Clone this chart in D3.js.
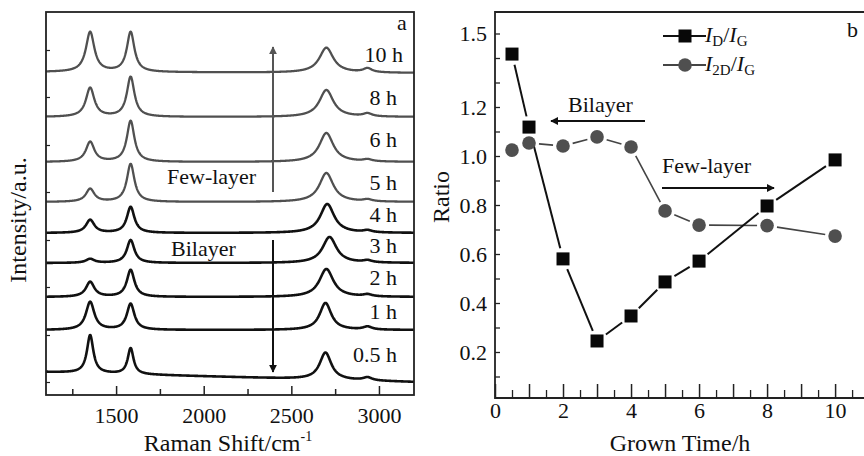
<!DOCTYPE html>
<html><head><meta charset="utf-8">
<script src="https://cdn.jsdelivr.net/npm/d3@7/dist/d3.min.js"></script>
<style>
html,body{margin:0;padding:0;background:#fff;}
svg{display:block;}
text{font-family:"Liberation Serif","Times New Roman",serif;fill:#111;}
</style></head>
<body><svg id="c" width="864" height="456"></svg>
<script>
// ---------- Panel a data (Raman spectra, stacked) ----------
const spectraLabels = ["10 h","8 h","6 h","5 h","4 h","3 h","2 h","1 h","0.5 h"];
const baseLeft  = [32.3, 27.8, 23.3, 19.3, 16.2, 13.2, 9.8, 6.5, 2.3];
const baseRight = [32.2, 27.8, 23.3, 19.3, 16.2, 13.2, 9.8, 6.5, 1.3];
const peakD   = [4.0, 2.9, 2.0, 1.3, 1.3, 0.4, 1.5, 2.8, 3.8];
const peakG   = [4.0, 4.0, 4.1, 3.8, 2.6, 2.3, 2.7, 2.6, 2.6];
const peak2D  = [2.5, 2.7, 2.9, 2.9, 2.9, 2.6, 2.8, 2.7, 2.7];
const peak2D2 = [0.4, 0.3, 0.2, 0.2, 0.2, 0.2, 0.2, 0.3, 0.3];
const pos2D   = [2700, 2700, 2700, 2700, 2705, 2718, 2700, 2695, 2695];
const labelY  = [33.3, 29.0, 24.8, 20.5, 17.3, 14.2, 11.0, 7.6, 3.3];
const posD = 1352, posG = 1583, pos2D2 = 2935;
const ramanTicks = [1500, 2000, 2500, 3000];
const ramanMinor = [1250, 1750, 2250, 2750];

// ---------- Panel b data ----------
const grownTime = [0.5, 1, 2, 3, 4, 5, 6, 8, 10];
const ratioDG   = [1.416, 1.118, 0.58, 0.245, 0.347, 0.486, 0.571, 0.796, 0.984];
const ratio2DG  = [1.024, 1.053, 1.041, 1.078, 1.037, 0.776, 0.718, 0.716, 0.673];
const ratioTickLabels = [0.2, 0.4, 0.6, 0.8, 1.0, 1.2, 1.5];

const svg = d3.select("#c");
const FS = 22, FT = 24;

// ================= Panel a =================
const ax = {l:46, r:414, t:12, b:395};
const xa = d3.scaleLinear().domain([1100, 3200]).range([ax.l, ax.r]);
const ya = d3.scaleLinear().domain([0, 38.3]).range([ax.b, ax.t]);
const ga = svg.append("g");

const lor = (x, x0, w) => (w*w)/((x-x0)*(x-x0)+w*w);
const xs = d3.range(1100, 3201, 2);
spectraLabels.forEach((lab, i) => {
  const top = i < 4;
  const wD = i === 8 ? 22 : 29, wG = i === 8 ? 20 : 26, w2 = i >= 7 ? 40 : 48;
  const pts = xs.map(x => {
    const b = baseLeft[i] + (baseRight[i]-baseLeft[i])*(x-1100)/2100;
    return [x, b + peakD[i]*lor(x,posD,wD) + peakG[i]*lor(x,posG,wG)
              + peak2D[i]*lor(x,pos2D[i],w2) + peak2D2[i]*lor(x,pos2D2,30)];
  });
  ga.append("path").datum(pts)
    .attr("d", d3.line().x(d=>xa(d[0])).y(d=>ya(d[1])))
    .attr("fill","none")
    .attr("stroke", top ? "#505050" : "#111")
    .attr("stroke-width", top ? 2.3 : 2.6)
    .attr("stroke-linejoin","round");
});
// spectrum labels
spectraLabels.forEach((lab, i) => {
  ga.append("text").attr("x", i===0 ? 403 : 397).attr("y", ya(labelY[i]))
    .attr("text-anchor","end").attr("font-size",FS).text(lab);
});
// axes a
ga.append("g").attr("transform",`translate(0,${ax.b})`)
  .call(d3.axisBottom(xa).tickValues(ramanTicks).tickSize(-9).tickPadding(12).tickFormat(d3.format("d")))
  .call(g=>{g.select(".domain").remove(); g.selectAll("text").attr("font-size",FS).attr("font-family","Liberation Serif").attr("fill","#111"); g.selectAll("line").attr("stroke","#222").attr("stroke-width",1.5);});
ga.append("g").attr("transform",`translate(0,${ax.b})`)
  .call(d3.axisBottom(xa).tickValues(ramanMinor).tickSize(-6).tickFormat(""))
  .call(g=>{g.select(".domain").remove(); g.selectAll("line").attr("stroke","#222").attr("stroke-width",1.5);});
ga.append("g").attr("transform",`translate(${ax.l},0)`)
  .call(d3.axisLeft(ya).tickValues([1.3,6.0,10.8,15.5,20.3,25.0,29.8,34.5]).tickSize(-4).tickFormat(""))
  .call(g=>{g.select(".domain").remove(); g.selectAll("line").attr("stroke","#222").attr("stroke-width",1.2);});
ga.append("rect").attr("x",ax.l).attr("y",ax.t).attr("width",ax.r-ax.l).attr("height",ax.b-ax.t)
  .attr("fill","none").attr("stroke","#222").attr("stroke-width",1.8);
ga.append("text").attr("x",397).attr("y",30).attr("font-size",FS).text("a");
// axis titles a
const xt = ga.append("text").attr("x",228).attr("y",451).attr("text-anchor","middle").attr("font-size",FT);
xt.append("tspan").text("Raman Shift/cm");
xt.append("tspan").attr("font-size",14).attr("dy",-10).text("-1");
ga.append("text").attr("transform","translate(26,220) rotate(-90)").attr("text-anchor","middle")
  .attr("font-size",FT).text("Intensity/a.u.");

// arrows
const defs = svg.append("defs");
function marker(id, color){
  defs.append("marker").attr("id",id).attr("viewBox","0 0 10 10").attr("refX",9).attr("refY",5)
    .attr("markerWidth",4).attr("markerHeight",4).attr("orient","auto")
    .append("path").attr("d","M0,0 L10,5 L0,10 Z").attr("fill",color);
}
marker("ag","#555"); marker("ak","#111");
ga.append("line").attr("x1",273).attr("y1",192).attr("x2",273).attr("y2",47)
  .attr("stroke","#555").attr("stroke-width",2).attr("marker-end","url(#ag)");
ga.append("line").attr("x1",273).attr("y1",240).attr("x2",273).attr("y2",372)
  .attr("stroke","#111").attr("stroke-width",2).attr("marker-end","url(#ak)");
ga.append("text").attr("x",167).attr("y",184).attr("font-size",FS).text("Few-layer");
ga.append("text").attr("x",171).attr("y",256).attr("font-size",FS).text("Bilayer");

// ================= Panel b =================
const bx = {l:495, r:864, t:12, b:398};
const xb = d3.scaleLinear().domain([0, 10.85]).range([bx.l, bx.r]);
const yb = d3.scaleLinear().domain([0, 1.6]).range([401, 9]);
const gb = svg.append("g");

gb.append("g").attr("transform",`translate(0,${bx.b})`)
  .call(d3.axisBottom(xb).tickValues(d3.range(0,11,1)).tickSize(-14).tickPadding(5)
     .tickFormat(d => d % 2 === 0 ? d : ""))
  .call(g=>{g.select(".domain").remove(); g.selectAll("text").attr("font-size",FS).attr("font-family","Liberation Serif").attr("fill","#111").attr("y",4); g.selectAll("line").attr("stroke","#222").attr("stroke-width",1.5);});
gb.append("g").attr("transform",`translate(0,${bx.b})`)
  .call(d3.axisBottom(xb).tickValues(d3.range(0.5,11,1)).tickSize(-8).tickFormat(""))
  .call(g=>{g.select(".domain").remove(); g.selectAll("line").attr("stroke","#222").attr("stroke-width",1.3);});
gb.append("g").attr("transform",`translate(${bx.l},0)`)
  .call(d3.axisLeft(yb).tickValues(d3.range(1,16).map(d=>d/10)).tickSize(-5).tickPadding(8)
    .tickFormat(d => ratioTickLabels.some(v => Math.abs(v-d)<1e-6) ? d3.format(".1f")(d) : ""))
  .call(g=>{g.select(".domain").remove(); g.selectAll("text").attr("font-size",FS).attr("font-family","Liberation Serif").attr("fill","#111"); g.selectAll("line").attr("stroke","#222").attr("stroke-width",1.3);});
gb.append("path").attr("d",`M${bx.r},${bx.t}H${bx.l}V${bx.b}H${bx.r}`)
  .attr("fill","none").attr("stroke","#222").attr("stroke-width",1.8);

// shortened connecting segments
function segs(xv, yv, color, width, gap){
  for (let i=0;i<xv.length-1;i++){
    const x1=xb(xv[i]), y1=yb(yv[i]), x2=xb(xv[i+1]), y2=yb(yv[i+1]);
    const dx=x2-x1, dy=y2-y1, L=Math.hypot(dx,dy);
    if (L < 2*gap) continue;
    const ux=dx/L, uy=dy/L;
    gb.append("line").attr("x1",x1+ux*gap).attr("y1",y1+uy*gap)
      .attr("x2",x2-ux*gap).attr("y2",y2-uy*gap)
      .attr("stroke",color).attr("stroke-width",width);
  }
}
segs(grownTime, ratio2DG, "#444", 1.6, 10);
segs(grownTime, ratioDG, "#111", 2, 11);
gb.selectAll("circle.c").data(grownTime).enter().append("circle")
  .attr("cx",(d)=>xb(d)).attr("cy",(d,i)=>yb(ratio2DG[i])).attr("r",6.8).attr("fill","#4f4f4f");
const S = 13;
gb.selectAll("rect.s").data(grownTime).enter().append("rect")
  .attr("x",d=>xb(d)-S/2).attr("y",(d,i)=>yb(ratioDG[i])-S/2).attr("width",S).attr("height",S).attr("fill","#080808");

// legend
gb.append("line").attr("x1",663).attr("x2",706).attr("y1",36).attr("y2",36).attr("stroke","#111").attr("stroke-width",2);
gb.append("rect").attr("x",685-S/2).attr("y",36-S/2).attr("width",S).attr("height",S).attr("fill","#080808");
gb.append("line").attr("x1",663).attr("x2",706).attr("y1",65).attr("y2",65).attr("stroke","#444").attr("stroke-width",2);
gb.append("circle").attr("cx",685).attr("cy",65).attr("r",6.8).attr("fill","#4f4f4f");
function legText(y, sub1){
  const t = gb.append("text").attr("x",705).attr("y",y).attr("font-size",FS);
  t.append("tspan").attr("font-style","italic").text("I");
  t.append("tspan").attr("font-size",15).attr("dy",4).text(sub1);
  t.append("tspan").attr("dy",-4).text("/");
  t.append("tspan").attr("font-style","italic").text("I");
  t.append("tspan").attr("font-size",15).attr("dy",4).text("G");
}
legText(42, "D");
legText(71, "2D");
gb.append("text").attr("x",847).attr("y",37).attr("font-size",FS).text("b");

// annotations
gb.append("line").attr("x1",645).attr("y1",121).attr("x2",551).attr("y2",121)
  .attr("stroke","#111").attr("stroke-width",2).attr("marker-end","url(#ak)");
gb.append("text").attr("x",568).attr("y",112).attr("font-size",FS).text("Bilayer");
gb.append("line").attr("x1",662).attr("y1",188).attr("x2",774).attr("y2",188)
  .attr("stroke","#111").attr("stroke-width",2).attr("marker-end","url(#ak)");
gb.append("text").attr("x",662).attr("y",173).attr("font-size",FS).text("Few-layer");

// axis titles b
gb.append("text").attr("x",680).attr("y",451).attr("text-anchor","middle").attr("font-size",FT).text("Grown Time/h");
gb.append("text").attr("transform","translate(449,197) rotate(-90)").attr("text-anchor","middle").attr("font-size",FT).text("Ratio");
</script></body></html>
